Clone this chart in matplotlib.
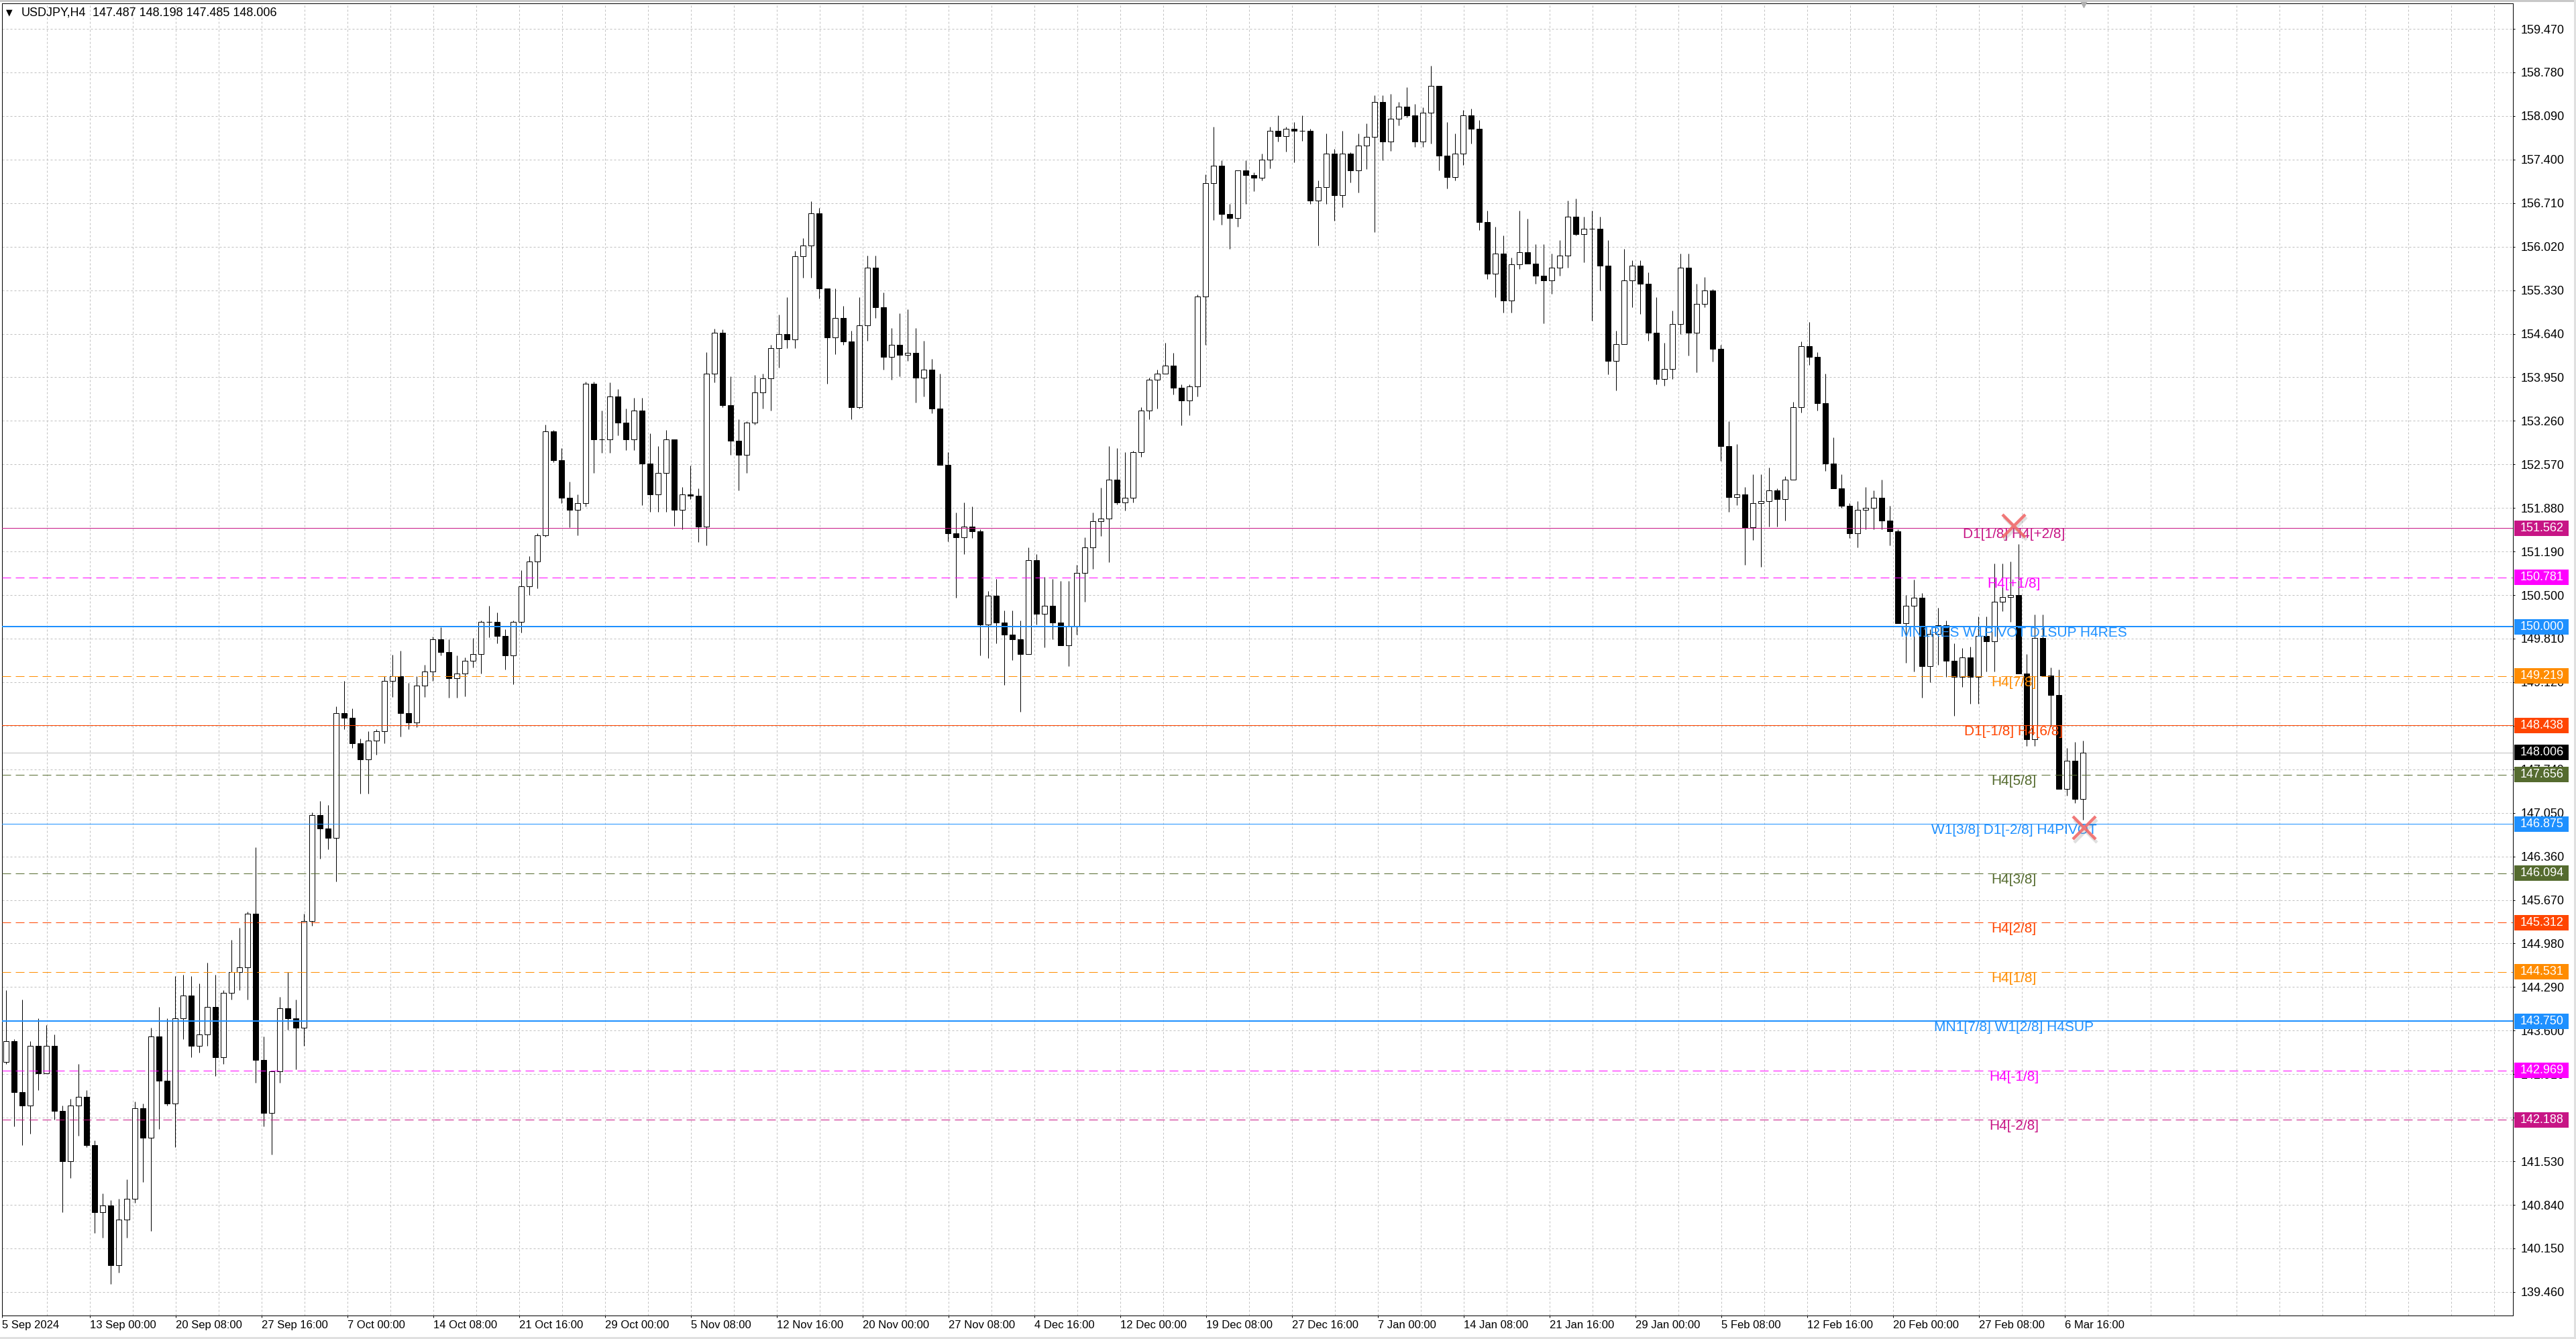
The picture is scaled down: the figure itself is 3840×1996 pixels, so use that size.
import numpy as np
import matplotlib.pyplot as plt
import matplotlib.transforms as mtransforms
from matplotlib.patches import Rectangle

plt.rcParams['font.family'] = ['Liberation Sans', 'DejaVu Sans']

# USDJPY H4, grouped in 12h candles (3 H4 bars each)
first_open = 143.10
highs = [144.24, 143.47, 144.09, 143.43, 143.80, 143.69, 143.54, 142.41, 142.52, 143.07,
         142.66, 141.86, 141.02, 140.91, 140.94, 141.24, 142.48, 142.44, 143.65, 143.98,
         143.80, 144.46, 144.49, 144.46, 144.35, 144.68, 144.49, 144.24, 145.04, 145.23,
         145.48, 146.51, 143.51, 142.96, 144.13, 144.53, 144.09, 145.45, 147.06, 147.24,
         147.17, 148.74, 149.14, 148.70, 148.23, 148.34, 148.37, 149.22, 149.55, 149.62,
         149.11, 149.22, 149.40, 149.84, 149.99, 149.80, 149.54, 149.51, 149.82, 150.10,
         150.33, 150.22, 149.96, 150.10, 150.89, 151.12, 151.48, 153.20, 153.11, 152.83,
         152.30, 152.10, 153.88, 153.88, 153.42, 153.87, 153.76, 153.45, 153.62, 153.62,
         153.06, 152.86, 153.11, 152.58, 152.21, 152.55, 152.19, 154.35, 154.72, 154.71,
         153.96, 153.28, 153.25, 153.99, 154.01, 154.46, 154.94, 155.22, 155.95, 156.15,
         156.74, 156.63, 155.36, 155.36, 155.08, 154.69, 155.22, 155.88, 155.88, 155.29,
         154.73, 154.96, 155.03, 154.73, 154.53, 154.24, 154.01, 152.76, 151.81, 151.97,
         151.90, 151.54, 150.56, 150.76, 150.26, 150.26, 150.10, 151.25, 151.15, 150.79,
         150.76, 150.72, 150.72, 150.98, 151.41, 151.81, 152.20, 152.86, 152.83, 152.76,
         152.79, 153.48, 153.94, 154.07, 154.50, 154.34, 153.84, 153.84, 155.26, 157.16,
         157.92, 157.39, 156.70, 157.23, 157.39, 157.20, 157.49, 157.92, 158.10, 157.92,
         157.99, 158.10, 157.89, 157.07, 157.81, 157.57, 157.86, 157.52, 157.81, 157.97,
         158.42, 158.42, 158.44, 158.31, 158.55, 158.28, 158.23, 158.89, 158.55, 157.99,
         157.81, 158.18, 158.21, 158.02, 156.59, 156.33, 156.20, 155.85, 156.59, 156.46,
         156.06, 156.06, 155.91, 156.12, 156.75, 156.78, 156.49, 156.59, 156.49, 156.12,
         154.69, 155.98, 155.80, 155.80, 155.61, 155.22, 154.50, 155.01, 155.91, 155.91,
         155.43, 155.54, 155.35, 154.46, 153.25, 152.89, 152.21, 152.41, 152.41, 152.52,
         152.19, 152.38, 153.56, 154.52, 154.83, 154.35, 154.01, 153.00, 152.41, 151.96,
         151.99, 152.21, 152.16, 152.33, 151.91, 151.54, 150.50, 150.75, 150.53, 149.96,
         150.30, 150.10, 149.74, 149.66, 149.68, 150.16, 150.16, 151.00, 151.00, 151.03,
         151.31, 149.57, 150.19, 150.19, 149.35, 149.32, 148.08, 148.17, 148.198]
lows = [143.07, 142.08, 141.79, 141.97, 142.66, 142.92, 142.19, 140.72, 141.27, 141.93,
        141.75, 140.39, 140.32, 139.59, 139.77, 140.32, 140.87, 141.20, 140.43, 142.04,
        142.41, 141.75, 143.47, 143.18, 143.25, 143.36, 142.88, 143.07, 144.09, 144.24,
        144.09, 142.77, 142.08, 141.64, 142.77, 143.61, 142.99, 143.36, 145.26, 146.32,
        146.47, 145.96, 148.37, 148.08, 147.35, 147.35, 147.97, 148.15, 148.89, 148.26,
        148.37, 148.41, 148.89, 149.14, 149.54, 148.87, 148.87, 148.90, 149.35, 149.26,
        149.83, 149.74, 149.32, 149.09, 149.91, 150.50, 150.61, 151.43, 152.61, 151.96,
        151.57, 151.45, 151.90, 152.44, 152.75, 152.75, 153.03, 152.80, 152.80, 151.93,
        151.82, 151.82, 151.82, 151.60, 151.54, 152.02, 151.34, 151.29, 153.87, 153.48,
        152.72, 152.16, 152.44, 153.20, 153.45, 153.42, 154.10, 154.41, 154.41, 155.53,
        155.53, 155.20, 153.85, 154.32, 154.46, 153.28, 153.45, 154.53, 154.89, 154.07,
        153.91, 153.97, 154.21, 153.55, 153.65, 153.38, 152.56, 151.35, 150.46, 151.15,
        151.40, 149.54, 149.50, 149.74, 149.08, 149.47, 148.65, 149.57, 150.03, 149.67,
        149.80, 149.77, 149.37, 149.87, 150.39, 150.92, 151.44, 151.02, 151.94, 151.84,
        151.97, 152.69, 153.29, 153.45, 154.01, 153.68, 153.19, 153.35, 153.65, 154.47,
        156.44, 156.37, 155.98, 156.34, 156.70, 156.90, 157.07, 157.26, 157.69, 157.53,
        157.36, 157.70, 156.70, 156.04, 156.70, 156.43, 156.64, 157.04, 156.88, 157.25,
        156.25, 157.39, 157.54, 157.94, 158.07, 157.60, 157.60, 157.65, 157.23, 156.94,
        157.07, 157.31, 157.65, 156.28, 155.51, 155.22, 154.98, 154.98, 155.67, 155.75,
        155.43, 154.80, 155.27, 155.56, 155.69, 156.20, 155.77, 154.85, 155.33, 154.00,
        153.74, 154.48, 155.06, 154.95, 154.53, 153.84, 153.82, 153.92, 154.64, 154.29,
        154.03, 155.06, 154.20, 152.63, 151.82, 151.93, 150.98, 151.37, 150.95, 151.59,
        151.59, 151.68, 152.33, 153.39, 154.15, 153.42, 152.47, 152.19, 151.88, 151.40,
        151.26, 151.54, 151.54, 151.54, 151.29, 150.05, 149.43, 149.29, 148.87, 149.12,
        149.40, 149.20, 148.59, 149.04, 148.78, 148.78, 149.29, 149.29, 150.25, 150.08,
        149.26, 148.11, 148.11, 149.21, 148.42, 147.43, 147.32, 147.21, 146.94]
closes = [143.43, 142.63, 142.41, 143.36, 142.92, 143.36, 142.33, 141.53, 142.41, 142.55,
          141.79, 140.72, 140.83, 139.88, 140.61, 140.94, 142.37, 141.90, 143.51, 142.81,
          142.44, 143.80, 144.16, 143.36, 143.54, 143.98, 143.18, 144.20, 144.53, 144.60,
          145.45, 143.14, 142.30, 142.96, 143.95, 143.80, 143.65, 145.34, 147.02, 146.80,
          146.65, 148.63, 148.56, 148.15, 147.90, 148.19, 148.34, 149.14, 149.22, 148.63,
          148.48, 149.07, 149.29, 149.80, 149.60, 149.18, 149.26, 149.46, 149.57, 150.08,
          150.08, 149.85, 149.54, 150.08, 150.64, 151.03, 151.45, 153.09, 152.64, 152.04,
          151.85, 151.96, 153.85, 152.97, 152.97, 153.65, 153.23, 152.97, 153.42, 152.58,
          152.10, 152.44, 152.97, 151.85, 152.10, 152.07, 151.59, 154.01, 154.66, 153.51,
          152.95, 152.72, 153.23, 153.71, 153.93, 154.41, 154.63, 154.55, 155.87, 156.04,
          156.55, 155.36, 154.58, 154.89, 154.52, 153.48, 154.77, 155.69, 155.06, 154.27,
          154.47, 154.31, 154.34, 153.94, 154.07, 153.45, 152.56, 151.48, 151.41, 151.58,
          151.51, 150.03, 150.49, 150.06, 149.87, 149.80, 149.57, 151.05, 150.20, 150.33,
          150.07, 149.70, 150.00, 150.85, 151.25, 151.67, 151.71, 152.33, 151.97, 152.04,
          152.76, 153.42, 153.91, 154.01, 154.14, 153.78, 153.58, 153.81, 155.23, 157.03,
          157.30, 156.54, 156.47, 157.23, 157.15, 157.11, 157.40, 157.86, 157.77, 157.89,
          157.86, 157.86, 156.75, 156.96, 157.49, 156.83, 157.49, 157.23, 157.62, 157.76,
          158.31, 157.68, 158.05, 158.24, 158.10, 157.68, 158.14, 158.57, 157.46, 157.12,
          157.49, 158.10, 157.89, 156.41, 155.59, 155.91, 155.17, 155.74, 155.93, 155.75,
          155.56, 155.48, 155.69, 155.88, 156.49, 156.22, 156.30, 156.30, 155.72, 154.21,
          154.48, 155.48, 155.72, 155.43, 154.66, 153.92, 154.08, 154.79, 155.69, 154.66,
          155.11, 155.33, 154.40, 152.86, 152.05, 152.10, 151.57, 151.96, 151.99, 152.16,
          152.02, 152.33, 153.48, 154.44, 154.27, 153.54, 152.58, 152.19, 151.91, 151.48,
          151.85, 151.88, 152.04, 151.68, 151.51, 150.05, 150.33, 150.46, 149.37, 149.88,
          150.02, 149.46, 149.20, 149.51, 149.20, 149.85, 149.77, 150.39, 150.47, 150.50,
          149.26, 148.22, 149.82, 149.23, 148.92, 147.43, 147.88, 147.27, 148.006]

header_ohlc = [147.487, 148.198, 147.485, 148.006]
bid = 148.006

levels = [151.562, 150.781, 150.000, 149.219, 148.438, 147.656, 146.875,
          146.094, 145.312, 144.531, 143.750, 142.969, 142.188]
level_names = ["D1[1/8] H4[+2/8]", "H4[+1/8]", "MN1RES W1PIVOT D1SUP H4RES", "H4[7/8]",
               "D1[-1/8] H4[6/8]", "H4[5/8]", "W1[3/8] D1[-2/8] H4PIVOT", "H4[3/8]",
               "H4[2/8]", "H4[1/8]", "MN1[7/8] W1[2/8] H4SUP", "H4[-1/8]", "H4[-2/8]"]
level_colors = ['#C71585', '#FF00FF', '#1E90FF', '#FF8C00', '#FF4500', '#556B2F', '#1E90FF',
                '#556B2F', '#FF4500', '#FF8C00', '#1E90FF', '#FF00FF', '#C71585']
level_dashed = [False, True, False, True, False, True, False, True, True, True, False, True, True]
level_px = [1, 1, 2, 1, 1, 1, 1, 1, 1, 1, 2, 1, 1]

# red crosses of the indicator (bar index, price)
cross_bars = [749.75, 776.0]
cross_prices = [151.60, 146.81]

y_ticks = [139.460, 140.150, 140.840, 141.530, 142.220, 142.910, 143.600, 144.290, 144.980,
           145.670, 146.360, 147.050, 147.740, 148.430, 149.120, 149.810, 150.500, 151.190,
           151.880, 152.570, 153.260, 153.950, 154.640, 155.330, 156.020, 156.710, 157.400,
           158.090, 158.780, 159.470]
x_labels = ["5 Sep 2024", "13 Sep 00:00", "20 Sep 08:00", "27 Sep 16:00", "7 Oct 00:00",
            "14 Oct 08:00", "21 Oct 16:00", "29 Oct 00:00", "5 Nov 08:00", "12 Nov 16:00",
            "20 Nov 00:00", "27 Nov 08:00", "4 Dec 16:00", "12 Dec 00:00", "19 Dec 08:00",
            "27 Dec 16:00", "7 Jan 00:00", "14 Jan 08:00", "21 Jan 16:00", "29 Jan 00:00",
            "5 Feb 08:00", "12 Feb 16:00", "20 Feb 00:00", "27 Feb 08:00", "6 Mar 16:00"]

W, H = 3840, 1996
PX = 0.72  # one pixel in points at dpi 100

fig = plt.figure(figsize=(W / 100, H / 100), dpi=100, facecolor='white')
ax = fig.add_axes([3 / W, 1 - 1961 / H, (3746 - 3) / W, (1961 - 5) / H])
ax.set_facecolor('white')

n_bars = 935.75          # H4 bars across the plot (4 px each)
ymin, ymax = 139.087, 159.874

# grid
for v in y_ticks:
    ax.axhline(v, color='#C0C0C0', lw=PX, ls=(0, (3, 3)), zorder=0)
for k in range(58):
    ax.axvline(16.75 + 16 * k, color='#C0C0C0', lw=PX, ls=(0, (3, 3)), zorder=0)

# bid line
ax.axhline(bid, color='#C0C0C0', lw=PX, zorder=1)

# candles
closes = np.array(closes)
opens = np.concatenate(([first_open], closes[:-1]))
xs = 3 * np.arange(len(closes)) + 1.5
up = closes >= opens
ax.vlines(xs, lows, highs, color='black', lw=PX, zorder=2)
ax.bar(xs, np.abs(closes - opens), bottom=np.minimum(opens, closes), width=2.1,
       color=np.where(up, 'white', 'black'), edgecolor='black', linewidth=PX, zorder=3)

# levels
for p, name, c, d, w in zip(levels, level_names, level_colors, level_dashed, level_px):
    ax.axhline(p, color=c, lw=w * PX, ls=(0, (13, 7)) if d else '-', zorder=4)
    ax.text(749.75, p, name, color=c, fontsize=15, ha='center', va='top', zorder=6)

# crosses
ax.plot(np.array(cross_bars) + 0.6, np.array(cross_prices) - 0.05, ls='none', marker='x',
        ms=24, mew=3.2, color='#808080', alpha=0.25, zorder=7)
ax.plot(cross_bars, cross_prices, ls='none', marker='x', ms=24, mew=3.2,
        color='#F06A6A', alpha=0.9, zorder=8)

# chart shift marker
ax.plot([775.75], [ymax], marker='v', ms=9, color='#B0B0B0', clip_on=False, zorder=9)

ax.set_xlim(0, n_bars)
ax.set_ylim(ymin, ymax)

# axes
for s in ax.spines.values():
    s.set_color('black')
    s.set_linewidth(PX)
ax.yaxis.tick_right()
ax.set_yticks(y_ticks)
ax.set_yticklabels([f'{v:.3f}' for v in y_ticks])
ax.tick_params(axis='y', length=3 * PX, width=PX, pad=6, labelsize=13, colors='black')
x_pos = [0] + [32.75 + 32 * k for k in range(len(x_labels) - 1)]
ax.set_xticks(x_pos)
ax.set_xticklabels(x_labels)
for lbl in ax.get_xticklabels():
    lbl.set_ha('left')
ax.tick_params(axis='x', length=3 * PX, width=PX, pad=3, labelsize=12, colors='black')

# price boxes on the right scale
blend = mtransforms.blended_transform_factory(fig.transFigure, ax.transData)
box_prices = levels + [bid]
box_colors = level_colors + ['black']
ppx = (ymax - ymin) / (1961 - 5)
for p, c in zip(box_prices, box_colors):
    fig.add_artist(Rectangle((3748 / W, p - 11.5 * ppx), 81 / W, 23 * ppx, transform=blend,
                             facecolor=c, edgecolor='none', zorder=5))
    fig.text(3757 / W, p, f'{p:.3f}', transform=blend, color='white', fontsize=13,
             va='center', ha='left', zorder=6)

# header
fig.text(9 / W, 1 - 19 / H, '\u25bc', fontsize=9, va='center', ha='left',
         family=['DejaVu Sans'])
fig.text(32 / W, 1 - 19.5 / H, 'USDJPY,H4', fontsize=13, va='center', ha='left')
fig.text(138 / W, 1 - 19.5 / H, ' '.join(f'{v:.3f}' for v in header_ohlc), fontsize=13,
         va='center', ha='left')

# window edges
edge = dict(transform=fig.transFigure, edgecolor='none', zorder=1)
fig.add_artist(Rectangle((0, 1 - 3 / H), 1, 3 / H, facecolor='#C8C8C8', **edge))
fig.add_artist(Rectangle((0, 0), 1, 3 / H, facecolor='#E0E0E0', **edge))
fig.add_artist(Rectangle((1 - 3 / W, 0), 3 / W, 1, facecolor='#E0E0E0', **edge))

fig.savefig('out.png', dpi=100, facecolor='white')
